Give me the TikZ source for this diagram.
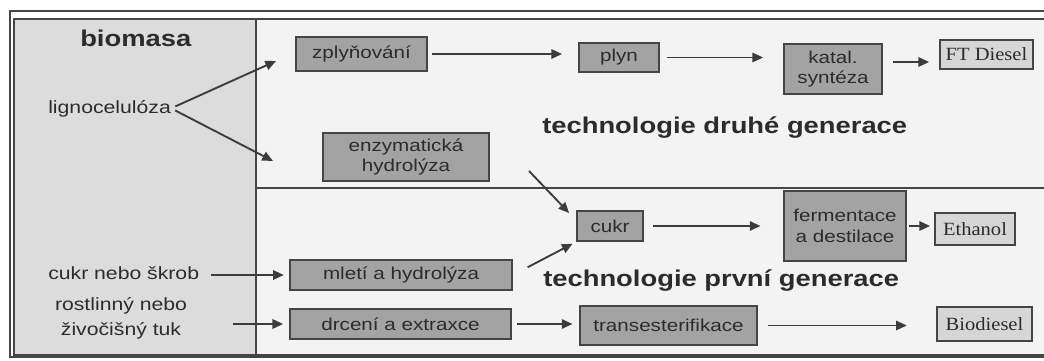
\documentclass[tikz,border=0pt]{standalone}
\usepackage{fontspec}
\setmainfont{Liberation Sans}
\newfontfamily\boxfont[FakeStretch=1.2]{Liberation Sans}
\newfontfamily\serfont[FakeStretch=1.1]{Liberation Serif}
\usetikzlibrary{arrows.meta,calc}
\definecolor{frame}{HTML}{454545}
\definecolor{leftbg}{HTML}{DCDCDC}
\definecolor{rightbg}{HTML}{F3F3F3}
\definecolor{boxfill}{HTML}{A3A3A3}
\definecolor{prodfill}{HTML}{D6D6D6}
\definecolor{txt}{HTML}{2C2C2C}
\definecolor{arrowc}{HTML}{3C3C3C}
\begin{document}
\begin{tikzpicture}[x=0.75pt,y=-0.75pt,
  procbox/.style={draw=frame, line width=1.3pt, fill=boxfill, inner sep=0pt, align=center,
    text=txt, font=\boxfont\fontsize{12.9}{15.5}\selectfont},
  prodbox/.style={draw=frame, line width=1.3pt, fill=prodfill, inner sep=0pt, align=center,
    text=txt, font=\serfont\fontsize{14}{16}\selectfont},
  lbl/.style={inner sep=0pt, text=txt, font=\boxfont\fontsize{13.25}{18.75}\selectfont, align=center},
  title/.style={inner sep=0pt, text=txt, font=\boxfont\bfseries\fontsize{17.1}{20}\selectfont},
  arr/.style={draw=arrowc, line width=1.4pt, -{Triangle[length=8pt,width=7pt]}},
  frameline/.style={draw=frame, line width=1.2pt}]
\useasboundingbox (0,0) rectangle (1044,360);
\fill[white] (0,0) rectangle (1044,360);
% panels
\fill[rightbg] (256,19) rectangle (1044,355);
\fill[leftbg] (14,19) rectangle (256,355);
% frame lines
\draw[frameline] (1044,11) -- (10,11) -- (10,357) -- (1044,357);
\draw[frameline] (1044,19) -- (14,19) -- (14,355) -- (1044,355);
\draw[frameline] (256,19) -- (256,355);
\draw[frameline, line width=1.6pt] (256,188) -- (1044,188);

% left labels
\node[title, anchor=base west] (bio) at (80,46) {biomasa};
\node[lbl, anchor=base west] (lig) at (48,113) {lignocelulóza};
\node[lbl, anchor=base west] (cns) at (48,279) {cukr nebo škrob};
\node[lbl] (tuk) at (121,318) {rostlinný nebo\\živočišný tuk};

% titles
\node[title, anchor=base west] (t2g) at (542,133) {technologie druhé generace};
\node[title, anchor=base west] (t1g) at (543,286) {technologie první generace};

% boxes
\node[procbox, minimum width=98.25pt, minimum height=25.5pt] (zpl) at (361.5,54) {zplyňování};
\node[procbox, minimum width=60pt, minimum height=21.75pt] (plyn) at (619,57.5) {plyn};
\node[procbox, minimum width=73.5pt, minimum height=37.5pt] (kat) at (833,69) {katal.\\syntéza};
\node[prodbox, minimum width=69.75pt, minimum height=21.75pt] (ft) at (986.5,54.5) {FT Diesel};
\node[procbox, minimum width=124.5pt, minimum height=36pt] (enz) at (406,157) {enzymatická\\hydrolýza};
\node[procbox, minimum width=49.5pt, minimum height=22.5pt] (cukr) at (610,226) {cukr};
\node[procbox, minimum width=91.5pt, minimum height=52.5pt] (fer) at (845,226) {fermentace\\a destilace};
\node[prodbox, minimum width=60pt, minimum height=24pt] (eth) at (975,229) {Ethanol};
\node[procbox, minimum width=166.5pt, minimum height=22.5pt] (mle) at (401,275) {mletí a hydrolýza};
\node[procbox, minimum width=165.75pt, minimum height=22.5pt] (drc) at (400.5,324) {drcení a extraxce};
\node[procbox, minimum width=132.75pt, minimum height=29.25pt] (tra) at (668.5,325.5) {transesterifikace};
\node[prodbox, minimum width=71.25pt, minimum height=25.5pt] (bdi) at (984.5,324) {Biodiesel};

% free arrow ends
\coordinate (t1) at (276,61);
\coordinate (t2) at (273,161);
\coordinate (e1) at (529,171);

% connectors
\draw[arr, shorten <=3.5pt] (lig.east) -- (t1);
\draw[arr, shorten <=3.5pt] (lig.east) -- (t2);
\draw[arr, shorten <=3pt, shorten >=12pt] (zpl.east) -- (zpl.east -| plyn.west);
\draw[arr, shorten <=5pt, shorten >=15pt] (plyn.east) -- (plyn.east -| kat.west);
\draw[arr, shorten <=7.5pt, shorten >=7.5pt] ($(kat.east)+(0,-7)$) -- ($(ft.west)+(0,7.5)$);
\draw[arr] (e1) -- ($(cukr.west)+(-7,-13)$);
\draw[arr, shorten <=12.5pt, shorten >=3pt] (mle.east) -- (cukr.south west);
\draw[arr, shorten <=7pt, shorten >=17pt] (cukr.east) -- (cukr.east -| fer.west);
\draw[arr, shorten <=1.5pt, shorten >=3pt] (fer.east) -- (fer.east -| eth.west);
\draw[arr, shorten <=9pt, shorten >=4pt] (cns.east |- mle.west) -- (mle.west);
\draw[arr, shorten <=34.5pt, shorten >=4.5pt] (tuk.east |- drc.west) -- (drc.west);
\draw[arr, shorten <=4pt, shorten >=5pt] (drc.east) -- (drc.east -| tra.west);
\draw[arr, shorten <=7.5pt, shorten >=22pt] (tra.east) -- (tra.east -| bdi.west);
\end{tikzpicture}
\end{document}
